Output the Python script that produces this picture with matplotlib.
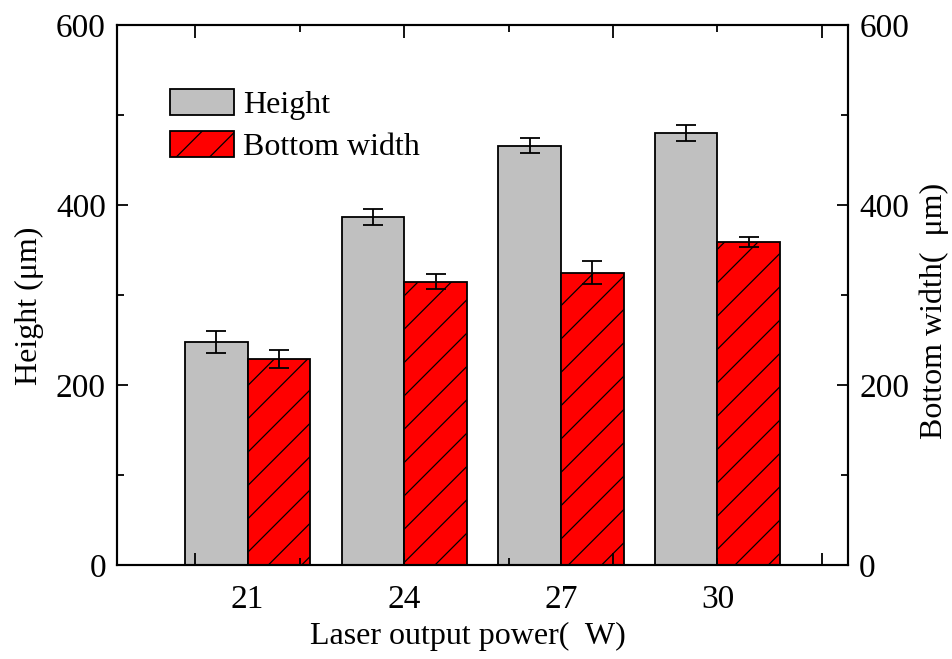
import matplotlib
matplotlib.use("Agg")
import matplotlib.pyplot as plt
import numpy as np

# Data
power = [21, 24, 27, 30]
power_labels = ["21", "24", "27", "30"]
height = [248, 387, 466, 480]
height_err = [12, 9, 8, 9]
bottom_width = [229, 315, 325, 359]
bottom_err = [10, 8.5, 13, 6]

plt.rcParams['font.family'] = ['Liberation Serif', 'DejaVu Serif']
plt.rcParams['hatch.linewidth'] = 0.9

fig = plt.figure(figsize=(9.52, 6.59), dpi=100)
ax = fig.add_axes([0.1229, 0.1426, 0.7679, 0.8194])

bar_w = 1.2
x = np.array(power)
err_kw = dict(ecolor='black', elinewidth=1.3, capsize=7, capthick=1.3)

ax.bar(x - bar_w / 2, height, bar_w, color='#C0C0C0', edgecolor='black',
       linewidth=1.3, yerr=height_err, error_kw=err_kw, label='Height')
ax.bar(x + bar_w / 2, bottom_width, bar_w, color='#FF0000', edgecolor='black',
       linewidth=1.3, hatch='/', yerr=bottom_err, error_kw=err_kw,
       label='Bottom width')

ax.set_xlim(18.5, 32.5)
ax.set_ylim(0, 600)

# x ticks: inward marks, custom labels under the bar groups
ax.set_xticks([20, 24, 28, 32])
ax.set_xticks([22, 26, 30], minor=True)
ax.set_xticklabels([])
ax.tick_params(axis='x', which='major', direction='in', length=9, width=1.3,
               top=True, labelbottom=False)
ax.tick_params(axis='x', which='minor', direction='in', length=5, width=1.3,
               top=True)
for p, lab in zip(power, power_labels):
    ax.text(p, -0.036, lab, transform=ax.get_xaxis_transform(),
            ha='center', va='top', fontsize=24)

ax.set_yticks([0, 200, 400, 600])
ax.set_yticks([100, 300, 500], minor=True)
ax.tick_params(axis='y', which='major', direction='in', length=8, width=1.3,
               labelsize=24, pad=8)
ax.tick_params(axis='y', which='minor', direction='in', length=5, width=1.3)

ax.set_ylabel('Height (μm)', fontsize=23)
ax.yaxis.set_label_coords(-0.1, 0.48)
ax.set_xlabel('Laser output power(  W)', fontsize=23)
ax.xaxis.set_label_coords(0.48, -0.105)

for s in ax.spines.values():
    s.set_linewidth(1.5)

ax2 = ax.twinx()
ax2.set_ylim(0, 600)
ax2.set_yticks([0, 200, 400, 600])
ax2.set_yticks([100, 300, 500], minor=True)
ax2.tick_params(axis='y', which='major', direction='in', length=8, width=1.3,
                labelsize=24, pad=8)
ax2.tick_params(axis='y', which='minor', direction='in', length=5, width=1.3)
ax2.set_ylabel('Bottom width(  μm)', fontsize=23)
ax2.yaxis.set_label_coords(1.098, 0.47)
for s in ax2.spines.values():
    s.set_linewidth(1.5)

ax.legend(loc='upper left', bbox_to_anchor=(0.055, 0.905), frameon=False,
          fontsize=23, handlelength=2.0, handleheight=0.85, handletextpad=0.3,
          labelspacing=0.35, borderaxespad=0)

fig.savefig('out.png', dpi=100)
